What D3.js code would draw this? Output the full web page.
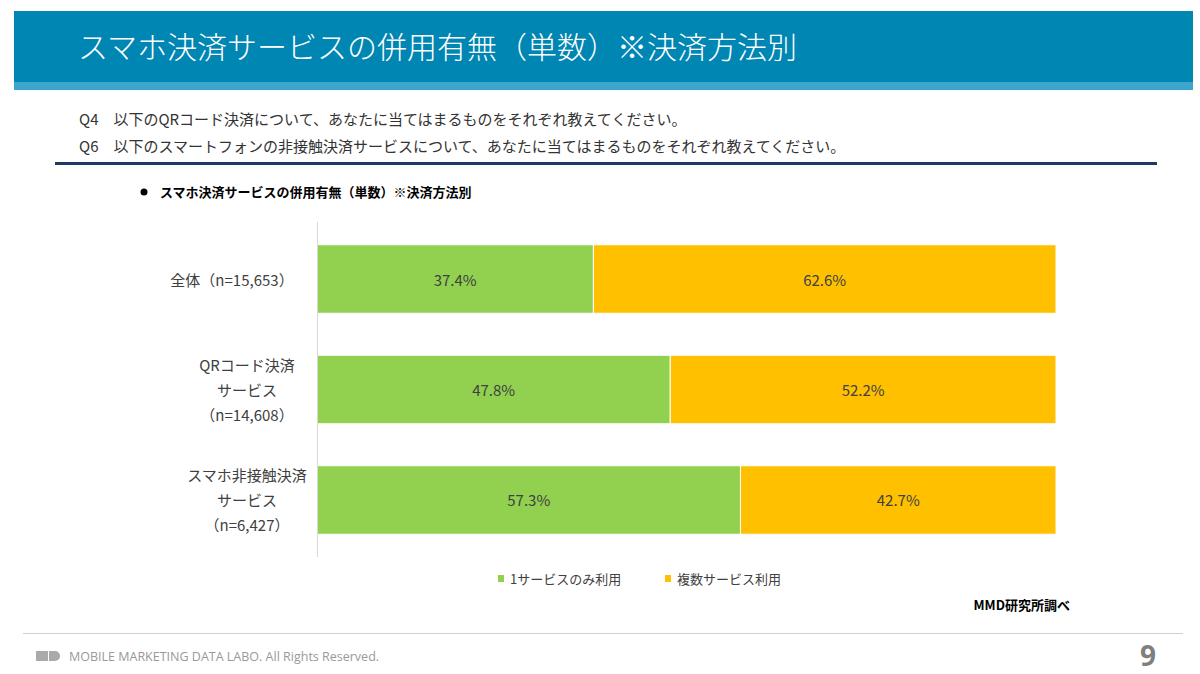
<!DOCTYPE html>
<meta charset="utf-8">
<style>
  body { margin: 0; background: #fff; }
  svg { display: block; font-family: "Noto Sans CJK JP", "Noto Sans", sans-serif; }
</style>
<div id="chart"></div>
<script src="https://cdn.jsdelivr.net/npm/d3@7"></script>
<script>

// chart data
let categories = [
  ["全体（n=15,653）"],
  ["QRコード決済", "サービス", "（n=14,608）"],
  ["スマホ非接触決済", "サービス", "（n=6,427）"]
];
let series_names = ["1サービスのみ利用", "複数サービス利用"];
let single_use = [37.4, 47.8, 57.3];
let multi_use = [62.6, 52.2, 42.7];
let series_colors = ["#92D050", "#FFC000"];

let width = 1200, height = 674;

let svg = d3.select("#chart")
  .append("svg")
    .attr("width", width)
    .attr("height", height);

// header band
svg.append("rect")
    .attr("x", 14).attr("y", 11)
    .attr("width", 1179).attr("height", 71)
    .style("fill", "#0086B3");
svg.append("rect")
    .attr("x", 14).attr("y", 82)
    .attr("width", 1179).attr("height", 8)
    .style("fill", "#3CA6CF");
svg.append("text")
    .attr("x", 78).attr("y", 58)
    .style("font-size", "30px")
    .style("font-weight", 300)
    .style("fill", "#fff")
    .text("スマホ決済サービスの併用有無（単数）※決済方法別");

// questions
let questions = [
  "Q4　以下のQRコード決済について、あなたに当てはまるものをそれぞれ教えてください。",
  "Q6　以下のスマートフォンの非接触決済サービスについて、あなたに当てはまるものをそれぞれ教えてください。"
];
svg.selectAll(".question")
  .data(questions)
  .enter()
  .append("text")
    .attr("class", "question")
    .attr("x", 79)
    .attr("y", (d, i) => 125 + i * 27)
    .style("font-size", "15px")
    .style("fill", "#333")
    .text(d => d);

svg.append("rect")
    .attr("x", 55).attr("y", 162)
    .attr("width", 1102).attr("height", 3)
    .style("fill", "#1F3864");

// chart subtitle
svg.append("circle")
    .attr("cx", 144).attr("cy", 192).attr("r", 3.5)
    .style("fill", "#000");
svg.append("text")
    .attr("x", 160).attr("y", 196.5)
    .style("font-size", "13px")
    .style("font-weight", 700)
    .style("fill", "#000")
    .text("スマホ決済サービスの併用有無（単数）※決済方法別");

// scales
let x = d3.scaleLinear()
  .domain([0, 100])
  .range([317, 1056]);

let y = d3.scaleBand()
  .domain(d3.range(categories.length))
  .range([222, 557])
  .paddingInner(0.38)
  .paddingOuter(0.206);

let stack_data = single_use.map((v, i) => ({ i: i, single: v, multi: multi_use[i] }));
let stacked = d3.stack().keys(["single", "multi"])(stack_data);

let bars = svg.append("g").attr("id", "bars");
stacked.forEach((layer, k) => {
  bars.selectAll(".bar" + k)
    .data(layer)
    .enter()
    .append("rect")
      .attr("x", d => x(d[0]))
      .attr("y", (d, i) => y(i))
      .attr("width", d => x(d[1]) - x(d[0]))
      .attr("height", y.bandwidth())
      .style("fill", series_colors[k])
      .style("stroke", "#fff")
      .style("stroke-width", 1);

  bars.selectAll(".label" + k)
    .data(layer)
    .enter()
    .append("text")
      .attr("x", d => (x(d[0]) + x(d[1])) / 2)
      .attr("y", (d, i) => y(i) + y.bandwidth() / 2)
      .attr("text-anchor", "middle")
      .attr("dominant-baseline", "central")
      .style("font-size", "15px")
      .style("fill", "#404040")
      .text(d => (d[1] - d[0]).toFixed(1) + "%");
});

// category axis
svg.append("line")
    .attr("x1", 317.5).attr("x2", 317.5)
    .attr("y1", 222).attr("y2", 557)
    .style("stroke", "#d9d9d9");

let cat_labels = svg.append("g").attr("id", "cat_labels");
categories.forEach((lines, i) => {
  let cy = y(i) + y.bandwidth() / 2;
  let t = cat_labels.append("text")
    .attr("text-anchor", "middle")
    .style("font-size", "15px")
    .style("fill", "#404040");
  lines.forEach((ln, j) => {
    t.append("tspan")
      .attr("x", lines.length > 1 ? 247 : 232)
      .attr("y", cy + (j - (lines.length - 1) / 2) * 25)
      .attr("dominant-baseline", "central")
      .text(ln);
  });
});

// legend
let legend_x = [498, 665];
series_names.forEach((name, k) => {
  svg.append("rect")
      .attr("x", legend_x[k]).attr("y", 575)
      .attr("width", 6).attr("height", 7)
      .style("fill", series_colors[k]);
  svg.append("text")
      .attr("x", legend_x[k] + 12).attr("y", 578.5)
      .attr("dominant-baseline", "central")
      .style("font-size", "13px")
      .style("fill", "#404040")
      .text(name);
});

svg.append("text")
    .attr("x", 1070).attr("y", 610)
    .attr("text-anchor", "end")
    .style("font-size", "13px")
    .style("font-weight", 700)
    .style("fill", "#000")
    .text("MMD研究所調べ");

// footer
svg.append("line")
    .attr("x1", 23).attr("x2", 1183)
    .attr("y1", 633.5).attr("y2", 633.5)
    .style("stroke", "#d0d0d0");
let logo = svg.append("g").attr("transform", "translate(36,651)");
logo.append("rect").attr("x", 0).attr("y", 0).attr("width", 12).attr("height", 10).style("fill", "#aaa");
logo.append("path").attr("d", "M13,0 h6 a5,5 0 0 1 0,10 h-6 z").style("fill", "#aaa");
svg.append("text")
    .attr("x", 69).attr("y", 660.5)
    .style("font-family", "'Open Sans', sans-serif")
    .style("font-size", "12.5px")
    .style("fill", "#999")
    .text("MOBILE MARKETING DATA LABO.  All Rights Reserved.");
svg.append("text")
    .attr("x", 1156).attr("y", 666)
    .attr("text-anchor", "end")
    .style("font-family", "'Open Sans', sans-serif")
    .style("font-size", "28px")
    .style("font-weight", 700)
    .style("fill", "#7f7f7f")
    .text("9");

</script>
